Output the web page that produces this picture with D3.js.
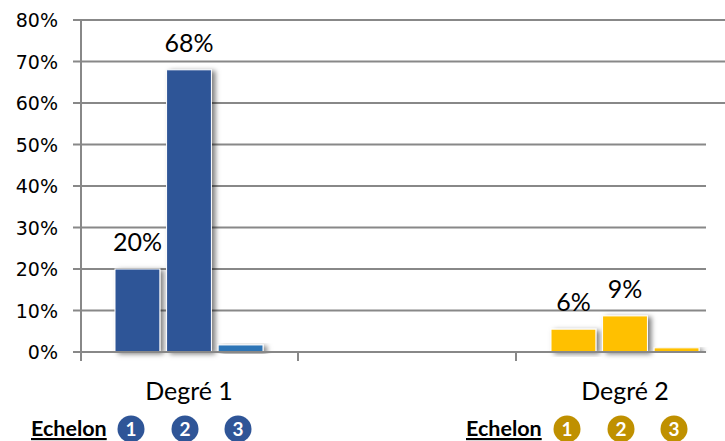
<!DOCTYPE html>
<html><head><meta charset="utf-8">
<script src="https://cdn.jsdelivr.net/npm/d3@7"></script>
<style>body{margin:0;background:#fff}svg{display:block}</style>
</head><body>
<script>
const categories = ["Degré 1", " ", "Degré 2"];
const echelons = ["1", "2", "3"];
const degre1Values = [0.20, 0.68, 0.017];
const degre2Values = [0.055, 0.087, 0.01];
const degre1Labels = ["20%", "68%", null];
const degre2Labels = ["6%", "9%", null];
const yTicks = [0, 0.1, 0.2, 0.3, 0.4, 0.5, 0.6, 0.7, 0.8];
const legendLabel = "Echelon";

const blueColors = ["#2F5597", "#2F5597", "#2E75B6"];
const goldColors = ["#FFC000", "#FFC000", "#FFC000"];

const W = 725, H = 441;
const svg = d3.select("body").append("svg").attr("width", W).attr("height", H);

const defs = svg.append("defs");
const f = defs.append("filter").attr("id", "sh").attr("x", "-20%").attr("y", "-20%").attr("width", "160%").attr("height", "140%");
f.append("feDropShadow").attr("dx", 3.5).attr("dy", 1.5).attr("stdDeviation", 2.6).attr("flood-color", "#000").attr("flood-opacity", 0.5);

const x0 = d3.scaleBand().domain(categories).range([80, 734]);
const x1 = d3.scaleBand().domain(echelons).range([35, 183]).paddingInner(0.13);
const y = d3.scaleLinear().domain([0, 0.8]).range([352, 20]);

const gridColor = "#888888";
svg.append("g").selectAll("line").data(yTicks).join("line")
  .attr("x1", 73).attr("x2", d => d >= 0.6 ? 725 : 706)
  .attr("y1", d => y(d)).attr("y2", d => y(d))
  .attr("stroke", gridColor).attr("stroke-width", 2);

const yAxis = d3.axisLeft(y).tickValues(yTicks).tickFormat(d3.format(".0%")).tickSize(0).tickPadding(0);
const gy = svg.append("g").attr("transform", "translate(58,0)").call(yAxis);
gy.select(".domain").remove();
gy.selectAll("text").attr("font-family", "DejaVu Sans").attr("font-size", 19).attr("fill", "#000").attr("dy", "0.36em");
svg.append("line").attr("x1", 81).attr("x2", 81).attr("y1", y(0.8)).attr("y2", y(0)).attr("stroke", gridColor).attr("stroke-width", 2);

svg.append("g").selectAll("line").data(categories.slice(1)).join("line")
  .attr("x1", d => x0(d)).attr("x2", d => x0(d)).attr("y1", y(0)).attr("y2", y(0) + 9)
  .attr("stroke", gridColor).attr("stroke-width", 2);
svg.append("line").attr("x1", 81).attr("x2", 81).attr("y1", y(0)).attr("y2", y(0) + 9).attr("stroke", gridColor).attr("stroke-width", 2);

const series = [
  {cat: "Degré 1", values: degre1Values, labels: degre1Labels, colors: blueColors},
  {cat: "Degré 2", values: degre2Values, labels: degre2Labels, colors: goldColors}
];
series.forEach(s => {
  const g = svg.append("g").attr("transform", `translate(${x0(s.cat)},0)`);
  const data = echelons.map((e, i) => ({e, v: s.values[i], l: s.labels[i], c: s.colors[i]}));
  g.selectAll("rect").data(data).join("rect")
    .attr("x", d => x1(d.e)).attr("width", x1.bandwidth())
    .attr("y", d => y(d.v)).attr("height", d => y(0) - y(d.v))
    .attr("fill", d => d.c).attr("stroke", "#fff").attr("stroke-width", 1)
    .attr("filter", "url(#sh)");
  g.selectAll("text").data(data.filter(d => d.l)).join("text")
    .attr("x", d => x1(d.e) + x1.bandwidth() / 2).attr("y", d => y(d.v) - 18)
    .attr("text-anchor", "middle").attr("font-family", "Lato").attr("font-size", 25)
    .text(d => d.l);
});

svg.append("line").attr("x1", 73).attr("x2", 706).attr("y1", y(0)).attr("y2", y(0)).attr("stroke", gridColor).attr("stroke-width", 2);

svg.append("g").selectAll("text").data(categories).join("text")
  .attr("x", d => x0(d) + x0.bandwidth() / 2).attr("y", 400)
  .attr("text-anchor", "middle").attr("font-family", "Lato").attr("font-size", 25)
  .text(d => d.trim());

const legends = [
  {x: 31, color: "#2F5597", cx: [131, 185, 238]},
  {x: 466, color: "#BF9000", cx: [567, 621, 674]}
];
legends.forEach(L => {
  svg.append("text").attr("x", L.x).attr("y", 436)
    .attr("font-family", "Lato").attr("font-weight", "bold").attr("font-size", 21.5)
    .attr("text-decoration", "underline").text(legendLabel);
  const g = svg.append("g");
  g.selectAll("circle").data(echelons).join("circle")
    .attr("cx", (d, i) => L.cx[i]).attr("cy", 429).attr("r", 13.5).attr("fill", L.color);
  g.selectAll("text").data(echelons).join("text")
    .attr("x", (d, i) => L.cx[i]).attr("y", 429).attr("dy", "0.36em")
    .attr("text-anchor", "middle").attr("font-family", "Lato").attr("font-weight", "bold")
    .attr("font-size", 19).attr("fill", "#fff").text(d => d);
});
</script>
</body></html>
